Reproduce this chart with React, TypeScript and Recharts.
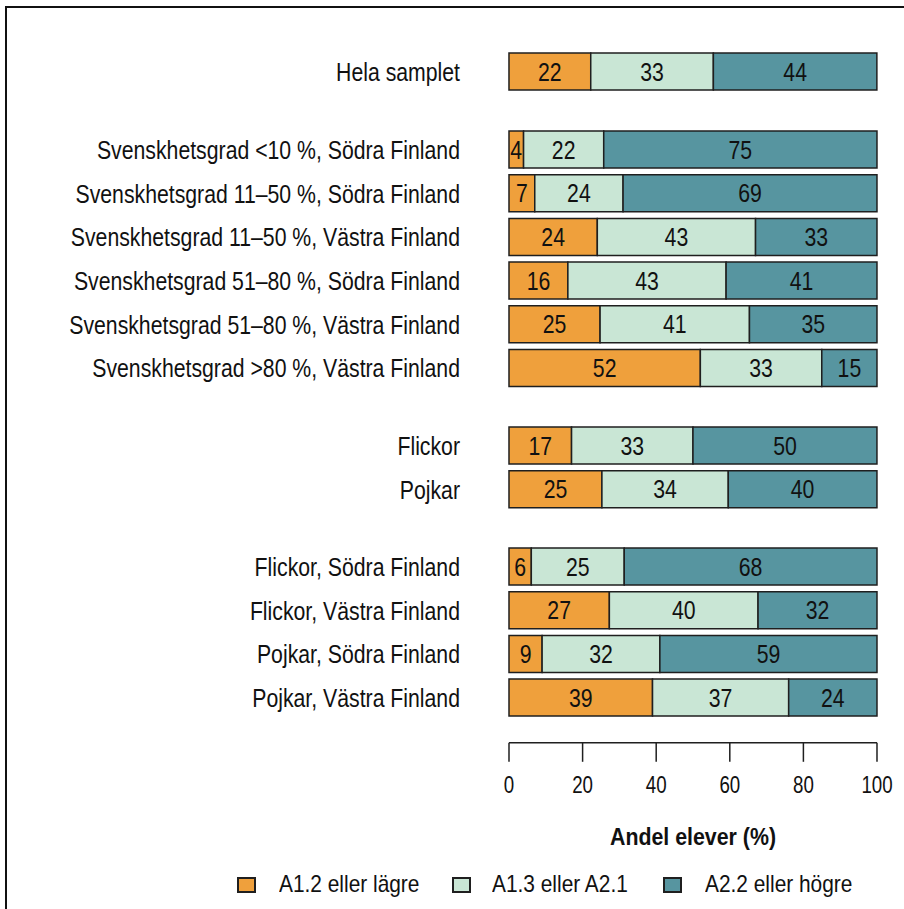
import { BarChart, Bar, XAxis, YAxis, LabelList } from "recharts";

const categories = [
  "Hela samplet",
  "Svenskhetsgrad <10 %, Södra Finland",
  "Svenskhetsgrad 11–50 %, Södra Finland",
  "Svenskhetsgrad 11–50 %, Västra Finland",
  "Svenskhetsgrad 51–80 %, Södra Finland",
  "Svenskhetsgrad 51–80 %, Västra Finland",
  "Svenskhetsgrad >80 %, Västra Finland",
  "Flickor",
  "Pojkar",
  "Flickor, Södra Finland",
  "Flickor, Västra Finland",
  "Pojkar, Södra Finland",
  "Pojkar, Västra Finland",
];

// how many rows sit in each visual block
const groupSizes = [1, 6, 2, 4];

const lowLevel = [22, 4, 7, 24, 16, 25, 52, 17, 25, 6, 27, 9, 39];
const midLevel = [33, 22, 24, 43, 43, 41, 33, 33, 34, 25, 40, 32, 37];
const highLevel = [44, 75, 69, 33, 41, 35, 15, 50, 40, 68, 32, 59, 24];

const seriesNames = ["A1.2 eller lägre", "A1.3 eller A2.1", "A2.2 eller högre"];
const xTicks = [0, 0.2, 0.4, 0.6, 0.8, 1];

const COLORS = ["#EFA03C", "#C9E6D5", "#5795A0"];
const FONT = '"Liberation Sans", Arial, sans-serif';
const STROKE = "#1f1f1f";
const INK = "#111";

const ROW = 43.7;
const GAP = 34;
const FIRST_TOP = 50;
const AXIS_PAD = 23;
const AXIS_H = 115;

const rows = categories.map((label, i) => ({
  label,
  low: lowLevel[i],
  mid: midLevel[i],
  high: highLevel[i],
}));

const keys = ["low", "mid", "high"];

// no narrow font installed, so squeeze the regular one horizontally
function Narrow({ x, y, text, anchor = "middle", size = 24, squeeze = 0.86, bold = false, dy = "0.36em" }: any) {
  return (
    <g transform={`translate(${x},${y}) scale(${squeeze},1)`}>
      <text
        x={0}
        y={0}
        dy={dy}
        textAnchor={anchor}
        fill={INK}
        fontSize={size}
        fontFamily={FONT}
        fontWeight={bold ? "bold" : "normal"}
      >
        {text}
      </text>
    </g>
  );
}

const CategoryTick = (props: any) => (
  <Narrow x={props.x} y={props.y} text={props.payload.value} anchor="end" size={25} squeeze={0.85} />
);

const ValueTick = (props: any) => (
  <Narrow
    x={props.x}
    y={props.y}
    text={String(Math.round(props.payload.value * 100))}
    dy="0.71em"
    squeeze={0.78}
  />
);

const BarValue = (props: any) => (
  <Narrow
    x={props.x + props.width / 2}
    y={props.y + props.height / 2}
    text={String(props.value)}
    size={25}
    squeeze={0.85}
  />
);

const AxisTitle = (props: any) => {
  const vb = props.viewBox;
  return (
    <Narrow
      x={vb.x + vb.width / 2}
      y={vb.y + 102}
      text="Andel elever (%)"
      dy={0}
      bold
      squeeze={0.89}
    />
  );
};

function Block({ data, last }: { data: typeof rows; last: boolean }) {
  const height = data.length * ROW + (last ? AXIS_PAD + AXIS_H : 0);
  return (
    <BarChart
      width={904}
      height={height}
      data={data}
      layout="vertical"
      stackOffset="expand"
      margin={{ top: 0, right: 27, bottom: 0, left: 0 }}
    >
      <XAxis
        type="number"
        domain={[0, 1]}
        ticks={xTicks}
        hide={!last}
        height={AXIS_H}
        tickSize={19}
        tickMargin={14}
        stroke={STROKE}
        strokeWidth={1.5}
        tick={<ValueTick />}
        label={<AxisTitle />}
      />
      <YAxis
        type="category"
        dataKey="label"
        width={509}
        axisLine={false}
        tickLine={false}
        tickSize={0}
        tickMargin={49}
        interval={0}
        padding={last ? { top: 0, bottom: AXIS_PAD } : undefined}
        tick={<CategoryTick />}
      />
      {keys.map((k, i) => (
        <Bar
          key={k}
          dataKey={k}
          stackId="s"
          fill={COLORS[i]}
          stroke={STROKE}
          strokeWidth={1.5}
          barSize={37}
          isAnimationActive={false}
        >
          <LabelList dataKey={k} content={<BarValue />} />
        </Bar>
      ))}
    </BarChart>
  );
}

const legendSquareX = [237, 452, 663];
const legendTextX = [279, 492, 705];

export default function App() {
  let start = 0;
  let top = FIRST_TOP;
  const blocks = groupSizes.map((n, gi) => {
    const data = rows.slice(start, start + n);
    start += n;
    const el = (
      <div key={gi} style={{ position: "absolute", left: 0, top }}>
        <Block data={data} last={gi === groupSizes.length - 1} />
      </div>
    );
    top += n * ROW + GAP;
    return el;
  });

  return (
    <div
      style={{
        position: "absolute",
        left: 0,
        top: 0,
        width: 904,
        height: 909,
        overflow: "hidden",
        background: "#fff",
        fontFamily: FONT,
      }}
    >
      <div
        style={{
          position: "absolute",
          left: 5,
          top: 6,
          width: 1200,
          height: 1200,
          borderTop: "2px solid #111",
          borderLeft: "2px solid #111",
        }}
      />
      {blocks}
      {seriesNames.map((name, i) => (
        <div key={name}>
          <span
            style={{
              position: "absolute",
              left: legendSquareX[i],
              top: 877,
              width: 15,
              height: 12,
              background: COLORS[i],
              border: `2px solid ${STROKE}`,
            }}
          />
          <span
            style={{
              position: "absolute",
              left: legendTextX[i],
              top: 870,
              fontSize: 24,
              lineHeight: "28px",
              color: INK,
              whiteSpace: "nowrap",
              transform: "scaleX(0.87)",
              transformOrigin: "left center",
            }}
          >
            {name}
          </span>
        </div>
      ))}
    </div>
  );
}
